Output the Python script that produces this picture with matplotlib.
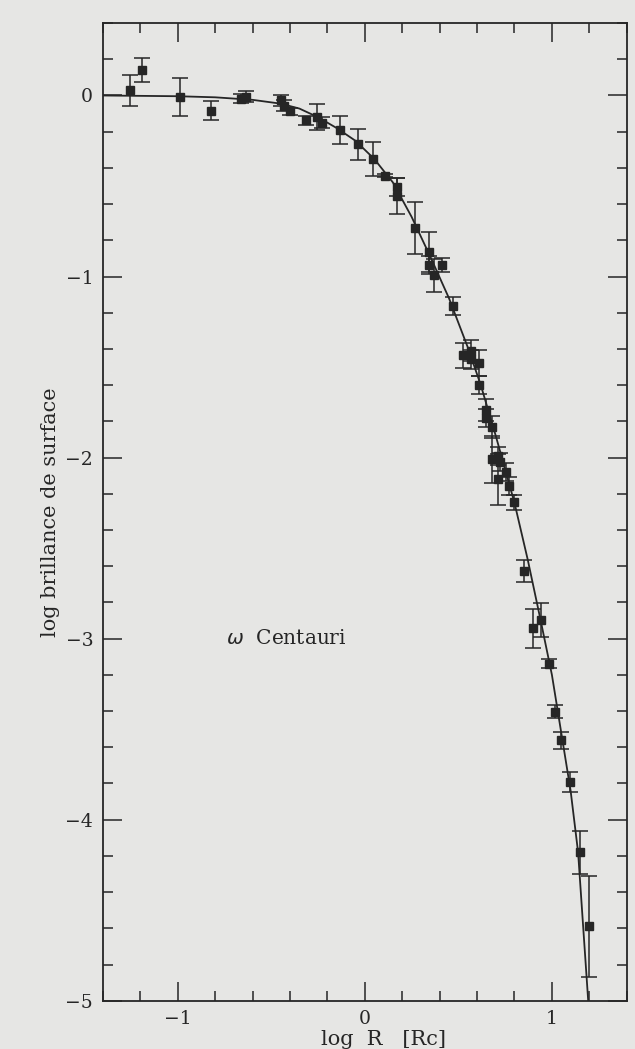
import numpy as np
import matplotlib
matplotlib.use("Agg")
import matplotlib.pyplot as plt
from matplotlib.ticker import MultipleLocator

# data points: log R, log surface brightness, error
logR = [-1.254, -1.19, -0.99, -0.82, -0.663, -0.633, -0.45, -0.434, -0.40,
        -0.312, -0.258, -0.227, -0.13, -0.034, 0.043, 0.108, 0.17, 0.17,
        0.267, 0.344, 0.344, 0.414, 0.371, 0.47, 0.523, 0.568, 0.568,
        0.609, 0.609, 0.649, 0.649, 0.681, 0.681, 0.713, 0.72, 0.713,
        0.756, 0.77, 0.80, 0.853, 0.90, 0.943, 0.984, 1.018, 1.05,
        1.095, 1.15, 1.197]
logI = [0.029, 0.14, -0.011, -0.083, -0.017, -0.006, -0.026, -0.057, -0.087,
        -0.138, -0.118, -0.151, -0.19, -0.269, -0.35, -0.442, -0.505, -0.555,
        -0.732, -0.865, -0.935, -0.935, -0.994, -1.165, -1.436, -1.409, -1.458,
        -1.478, -1.597, -1.737, -1.781, -1.829, -2.008, -1.99, -2.023, -2.12,
        -2.08, -2.159, -2.247, -2.625, -2.943, -2.896, -3.138, -3.403, -3.56,
        -3.793, -4.18, -4.589]
err = [0.085, 0.065, 0.105, 0.054, 0.025, 0.03, 0.03, 0.03, 0.02,
       0.025, 0.07, 0.03, 0.077, 0.085, 0.094, 0.01, 0.05, 0.1,
       0.145, 0.11, 0.05, 0.04, 0.09, 0.05, 0.067, 0.06, 0.05,
       0.07, 0.05, 0.06, 0.05, 0.06, 0.13, 0.05, 0.05, 0.14,
       0.05, 0.05, 0.04, 0.06, 0.107, 0.095, 0.025, 0.038, 0.047,
       0.055, 0.118, 0.28]

# model curve
fitR = [-1.4, -1.0, -0.8, -0.6, -0.45, -0.35, -0.25, -0.15, -0.05, 0.05,
        0.15, 0.25, 0.35, 0.45, 0.55, 0.62, 0.7, 0.8, 0.87, 0.94,
        1.0, 1.05, 1.1, 1.14, 1.167, 1.194]
fitI = [0.0, -0.004, -0.01, -0.024, -0.045, -0.072, -0.12, -0.18, -0.25, -0.35,
        -0.48, -0.67, -0.89, -1.12, -1.39, -1.6, -1.88, -2.25, -2.56, -2.9,
        -3.2, -3.52, -3.84, -4.18, -4.59, -5.0]

bg = '#e6e6e4'
ink = '#262626'
plt.rcParams['font.family'] = ['DejaVu Serif']

fig = plt.figure(figsize=(6.35, 10.49), dpi=100, facecolor=bg)
ax = fig.add_axes([0.162, 0.046, 0.825, 0.932])
ax.set_facecolor(bg)

ax.plot(fitR, fitI, color=ink, lw=1.3, zorder=2)
ax.errorbar(logR, logI, yerr=err, fmt='s', color=ink, ms=5.2, mec=ink,
            ecolor=ink, elinewidth=1.1, capsize=5.5, capthick=1.1, zorder=3)

ax.text(-0.74, -3.0, r'$\omega$  Centauri', fontsize=14.5, color=ink,
        va='center', ha='left')

ax.set_xlim(-1.4, 1.4)
ax.set_ylim(-5, 0.4)
ax.xaxis.set_major_locator(MultipleLocator(1))
ax.xaxis.set_minor_locator(MultipleLocator(0.2))
ax.yaxis.set_major_locator(MultipleLocator(1))
ax.yaxis.set_minor_locator(MultipleLocator(0.2))
ax.tick_params(which='both', direction='in', top=True, right=True,
               colors=ink, labelsize=13.5, width=1.1)
ax.tick_params(which='major', length=14, pad=7)
ax.tick_params(which='minor', length=7)
ax.set_xticks([-1, 0, 1])
ax.set_xticklabels(['\u22121', '0', '1'])
ax.set_yticks([0, -1, -2, -3, -4, -5])
ax.set_yticklabels(['0', '\u22121', '\u22122', '\u22123', '\u22124', '\u22125'])
for s in ax.spines.values():
    s.set_color(ink)
    s.set_linewidth(1.3)

ax.set_xlabel('log  R   [Rc]', fontsize=15, color=ink)
ax.xaxis.set_label_coords(0.536, -0.0295, transform=ax.transAxes)
ax.xaxis.label.set_va('top')
ax.set_ylabel('log brillance de surface', fontsize=15, color=ink, labelpad=4)

fig.savefig('out.png', dpi=100, facecolor=bg)
